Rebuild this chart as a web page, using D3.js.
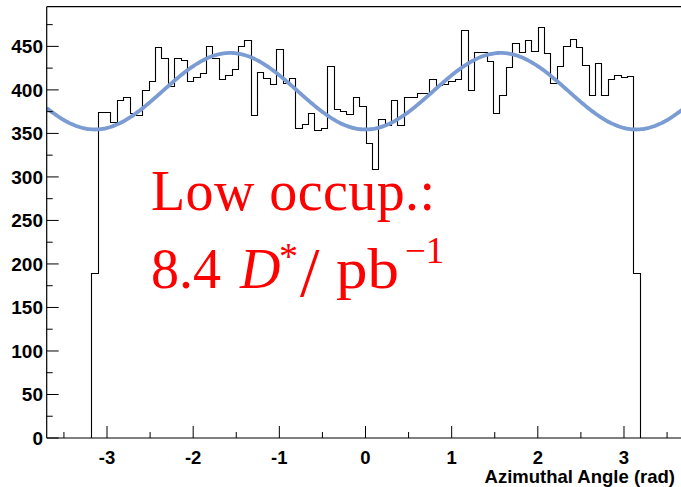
<!DOCTYPE html>
<html>
<head>
<meta charset="utf-8">
<script src="https://cdn.jsdelivr.net/npm/d3@7"></script>
<style>
  html, body { margin: 0; padding: 0; background: #fff; }
  svg { display: block; }
</style>
</head>
<body>
<svg id="chart" width="681" height="487"></svg>
<script>
// ---- data ----
const binLow = -3.182;
const binHigh = 3.182;
const binCounts = [
  190, 375, 375, 363, 388, 392, 373, 371, 400, 410,
  449, 437, 404, 437, 434, 410, 415, 419, 451, 437,
  412, 417, 424, 450, 457, 371, 420, 414, 407, 447,
  408, 414, 356, 361, 374, 354, 356, 428, 378, 376,
  372, 392, 381, 339, 309, 367, 360, 388, 360, 392,
  392, 397, 396, 413, 406, 407, 410, 412, 469, 400,
  443, 443, 433, 373, 394, 426, 454, 443, 457, 445,
  472, 442, 408, 427, 451, 458, 449, 429, 394, 431,
  394, 412, 417, 415, 416, 190
];
// fit: p0 - p1*cos(2*phi)
const fitParams = [398.5, 44];
const xMajorTicks = [-3, -2, -1, 0, 1, 2, 3];
const xMinorTicks = [-3.5, -2.5, -1.5, -0.5, 0.5, 1.5, 2.5, 3.5];
const yMajorTicks = [0, 50, 100, 150, 200, 250, 300, 350, 400, 450];
const yMinorTicks = [25, 75, 125, 175, 225, 275, 325, 375, 425, 475];
const xTitle = "Azimuthal Angle (rad)";
const xDomain = [-3.7, 3.7];
const yDomain = [0, 495.6];

// ---- layout ----
const svg = d3.select("#chart");
const L = 46.7, B = 438, T = 6.7, R = 684.3;
const x = d3.scaleLinear().domain(xDomain).range([L, R]);
const y = d3.scaleLinear().domain(yDomain).range([B, T]);

svg.append("rect").attr("width", 681).attr("height", 487).attr("fill", "#fff");

svg.append("defs").append("clipPath").attr("id", "plotclip")
  .append("rect").attr("x", L).attr("y", T).attr("width", R - L).attr("height", B - T);

const plot = svg.append("g").attr("clip-path", "url(#plotclip)");

// histogram outline
const nb = binCounts.length;
const bw = (binHigh - binLow) / nb;
const pts = [[binLow, 0]];
binCounts.forEach((v, i) => {
  pts.push([binLow + i * bw, v]);
  pts.push([binLow + (i + 1) * bw, v]);
});
pts.push([binHigh, 0]);
plot.append("path")
  .attr("d", d3.line().x(d => Math.round(x(d[0])) + 0.5).y(d => Math.round(y(d[1])) + 0.5)(pts))
  .attr("fill", "none")
  .attr("stroke", "#000")
  .attr("stroke-width", 1.1);

// fit curve
const fitPts = d3.range(0, 401).map(k => {
  const phi = xDomain[0] + (xDomain[1] - xDomain[0]) * k / 400;
  return [phi, fitParams[0] - fitParams[1] * Math.cos(2 * phi)];
});
plot.append("path")
  .attr("d", d3.line().x(d => x(d[0])).y(d => y(d[1])).curve(d3.curveBasis)(fitPts))
  .attr("fill", "none")
  .attr("stroke", "#7b9bd3")
  .attr("stroke-width", 3.8);

// frame
const frame = svg.append("g").attr("stroke", "#000").attr("stroke-width", 1.2).attr("fill", "none");
frame.append("line").attr("x1", L).attr("x2", R).attr("y1", B).attr("y2", B);
frame.append("line").attr("x1", L).attr("x2", R).attr("y1", T).attr("y2", T);
frame.append("line").attr("x1", L).attr("x2", L).attr("y1", T).attr("y2", B);
frame.append("line").attr("x1", R).attr("x2", R).attr("y1", T).attr("y2", B);

// ticks
const tk = svg.append("g").attr("stroke", "#000").attr("stroke-width", 1);
xMajorTicks.forEach(v => tk.append("line").attr("x1", x(v)).attr("x2", x(v)).attr("y1", B).attr("y2", B - 12));
xMinorTicks.forEach(v => tk.append("line").attr("x1", x(v)).attr("x2", x(v)).attr("y1", B).attr("y2", B - 6));
yMajorTicks.forEach(v => tk.append("line").attr("x1", L).attr("x2", L + 12).attr("y1", y(v)).attr("y2", y(v)));
yMinorTicks.forEach(v => tk.append("line").attr("x1", L).attr("x2", L + 6).attr("y1", y(v)).attr("y2", y(v)));

// labels
const lab = svg.append("g").attr("font-family", "'Liberation Sans', Arial, sans-serif")
  .attr("font-weight", "bold").attr("fill", "#000");
xMajorTicks.forEach(v => lab.append("text").attr("x", x(v)).attr("y", 464)
  .attr("font-size", 18.5)
  .attr("text-anchor", "middle").text(v < 0 ? "-" + Math.abs(v) : String(v)));
yMajorTicks.forEach(v => lab.append("text").attr("x", 43).attr("y", y(v)).attr("dy", "0.35em")
  .attr("font-size", 19)
  .attr("text-anchor", "end").text(String(v)));
lab.append("text").attr("x", 675).attr("y", 483).attr("font-size", 18.5)
  .attr("text-anchor", "end").text(xTitle);

// red annotation
const ann = svg.append("g").attr("font-family", "'Liberation Serif', 'Times New Roman', serif")
  .attr("fill", "#ff0000").attr("font-size", 56);
ann.append("text").attr("x", 151).attr("y", 210).attr("textLength", 284).text("Low occup.:");
const t2 = ann.append("text").attr("x", 151).attr("y", 288);
t2.append("tspan").attr("x", 151).attr("y", 288).text("8.4");
t2.append("tspan").attr("x", 240).attr("y", 288).attr("font-style", "italic").text("D");
t2.append("tspan").attr("x", 279).attr("y", 269).attr("font-size", 38).text("*");
t2.append("tspan").attr("x", 300).attr("y", 296).attr("font-size", 70).text("/");
t2.append("tspan").attr("x", 336).attr("y", 288).attr("font-size", 56)
  .attr("textLength", 63).attr("lengthAdjust", "spacingAndGlyphs").text("pb");
t2.append("tspan").attr("x", 405).attr("y", 263).attr("font-size", 37).text("\u22121");
</script>
</body>
</html>
